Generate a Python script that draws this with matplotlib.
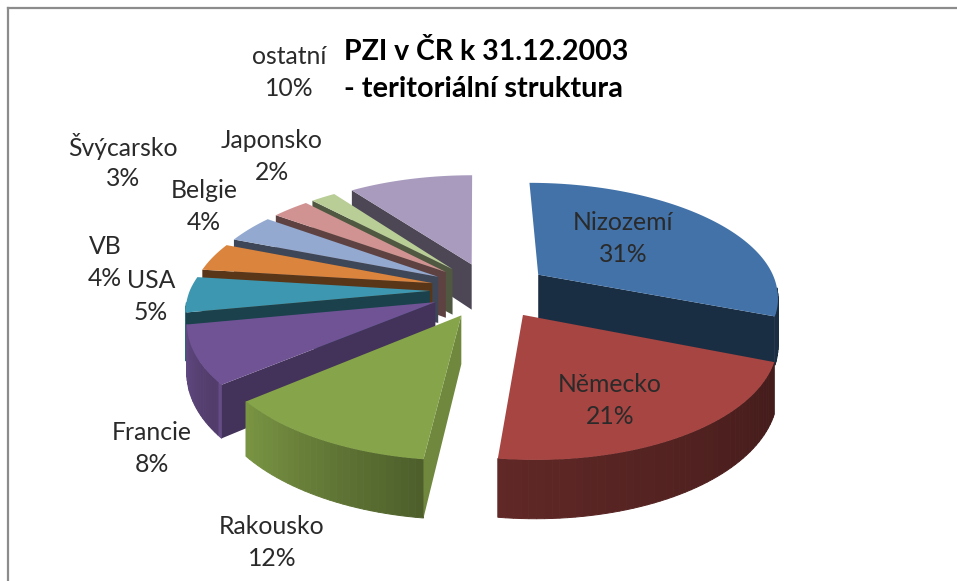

import numpy as np
import matplotlib
matplotlib.use("Agg")
import matplotlib.pyplot as plt

# PZI v CR - shares in percent, clockwise from 12 o'clock
labels = ["Nizozemí", "Německo", "Rakousko", "Francie", "USA", "VB", "Belgie", "Švýcarsko", "Japonsko", "ostatní"]
shares = [31, 21, 12, 8, 5, 4, 4, 3, 2, 10]
title_lines = ["PZI v ČR k 31.12.2003", "- teritoriální struktura"]

colors = ["#4272A8", "#A64542", "#86A44A", "#6F5394", "#3D97B0", "#DB843D", "#93A9CF", "#D09392", "#B9CD96", "#A99BBD"]
label_pos = [(623, 238), (610, 400), (272, 542), (152, 449), (151, 297), (105, 262), (204, 206), (123, 163), (272, 156), (289, 72)]
wall_dark = [0.40, 0.42, 0.83, 0.60, 0.43, 0.41, 0.42, 0.45, 0.43, 0.45]

# pie geometry in pixels
cx, cy = 490, 290
rx, ry = 240, 111.7
persp = 0.1655
explode = 60
depth = 47


def project(u, v, z=0.0):
    # v is toward the viewer, front of the pie gets bigger
    u, v = np.asarray(u, dtype=float), np.asarray(v, dtype=float)
    s = 1 / (1 - persp * v)
    shear = np.where(v > 0, 6.0, 2.0) * v
    return cx + shear + rx * u * s, cy + ry * v * s + z * depth * s


def shade(col, f):
    rgb = np.array(matplotlib.colors.to_rgb(col))
    return tuple(rgb * f)


def arc_shade(deg):
    # light on the outer wall, dark at front right, lighter to the left
    return np.interp(deg, [110, 187, 231, 232, 260], [0.40, 0.58, 0.92, 0.72, 0.88])


fig = plt.figure(figsize=(9.57, 5.81), dpi=100)
ax = fig.add_axes([0, 0, 1, 1])
ax.set_xlim(0, 957)
ax.set_ylim(581, 0)
ax.axis("off")

# frame of the chart
ax.plot([8, 8], [581, 8], color="#8c8c8c", lw=1.6)
ax.plot([8, 957], [8, 8], color="#8c8c8c", lw=1.6)

edges = np.cumsum([0] + shares) / sum(shares) * 2 * np.pi
slices = []
for i in range(len(shares)):
    a0, a1 = edges[i], edges[i + 1]
    mid = (a0 + a1) / 2
    # unit-disc offset of the exploded slice
    ox, oy = np.sin(mid) * explode / rx, -np.cos(mid) * explode / rx
    ang = np.linspace(a0, a1, max(int((a1 - a0) * 40), 4))
    slices.append((i, a0, a1, mid, ox, oy, ang))

# paint back slices first
order = sorted(slices, key=lambda s: -np.cos(s[3]))
for i, a0, a1, mid, ox, oy, ang in order:
    col = colors[i]
    us = ox + np.sin(ang)
    vs = oy - np.cos(ang)
    apex_top = project(ox, oy)
    apex_bot = project(ox, oy, 1)

    # outer wall, shaded bit by bit
    for j in range(len(ang) - 1):
        if np.cos(ang[j]) > -0.1 or np.cos(ang[j + 1]) > -0.1:
            continue
        t = project(us[j:j + 2], vs[j:j + 2])
        b = project(us[j:j + 2], vs[j:j + 2], 1)
        f = arc_shade(np.degrees(ang[j]))
        ax.fill([t[0][0], t[0][1], b[0][1], b[0][0]],
                [t[1][0], t[1][1], b[1][1], b[1][0]],
                color=shade(col, f), ec=shade(col, f), lw=0.7, zorder=2)

    # radial walls, only those turned to the viewer
    for a, seen in ((a0, a0 > np.pi), (a1, a1 < np.pi)):
        if not seen:
            continue
        ue, ve = ox + np.sin(a), oy - np.cos(a)
        top = project(ue, ve)
        bot = project(ue, ve, 1)
        ax.fill([apex_top[0], top[0], bot[0], apex_bot[0]],
                [apex_top[1], top[1], bot[1], apex_bot[1]],
                color=shade(col, wall_dark[i]), lw=0, zorder=2)

    # top face
    px, py = project(np.r_[ox, us], np.r_[oy, vs])
    ax.fill(px, py, color=col, lw=0, zorder=2)

for name, share, (x, y) in zip(labels, shares, label_pos):
    ax.text(x, y - 16, name, ha="center", va="center", family="Lato", fontsize=17.8, color="#2a2a2a", zorder=5)
    ax.text(x, y + 16, f"{share}%", ha="center", va="center", family="Lato", fontsize=17.8, color="#2a2a2a", zorder=5)

ax.text(344, 52, title_lines[0], ha="left", va="center", family="Lato", fontsize=20.5, fontweight="bold", color="black")
ax.text(344, 89, title_lines[1], ha="left", va="center", family="Lato", fontsize=20.8, fontweight="bold", color="black")

fig.savefig("out.png", dpi=100)
